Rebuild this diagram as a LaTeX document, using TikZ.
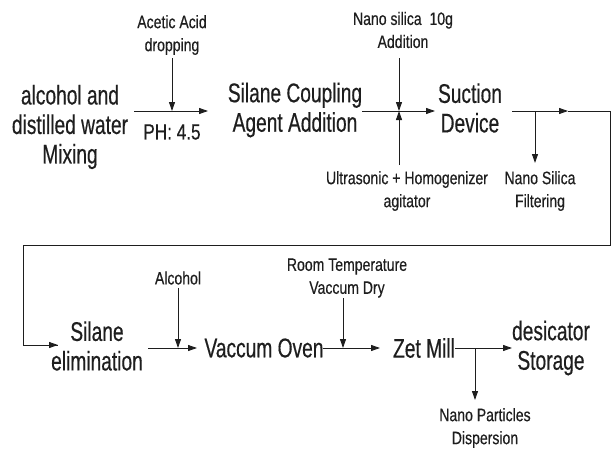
\documentclass[tikz,border=0pt]{standalone}
\usepackage{fontspec}
\setmainfont[FakeStretch=0.78]{Liberation Sans}
\newfontfamily\bigfam[FakeStretch=0.71,FakeBold=0.4]{Liberation Sans}
\newfontfamily\smallfam[FakeStretch=0.78,FakeBold=0.4]{Liberation Sans}
\usetikzlibrary{arrows.meta}
\definecolor{ink}{HTML}{1E1E1E}
\begin{document}
\begin{tikzpicture}[x=1pt,y=-1pt,
  big/.style={font=\bigfam\fontsize{27}{29.5}\selectfont, align=center, inner sep=0pt, text=ink},
  small/.style={font=\smallfam\fontsize{18}{23}\selectfont, align=center, inner sep=0pt, text=ink},
  mid/.style={font=\smallfam\fontsize{22}{26}\selectfont, align=center, inner sep=0pt, text=ink},
  ln/.style={line width=0.9pt, draw=ink},
  arr/.style={ln, -{Triangle[length=9pt,width=6pt]}}]
\useasboundingbox (0,0) rectangle (611,450);
\fill[white] (0,0) rectangle (611,450);
% row 1 nodes
\node[big] (mix) at (70,127) {alcohol and\\distilled water\\Mixing};
\node[small] (acetic) at (172,35) {Acetic Acid\\dropping};
\node[mid] (ph) at (172,132) {PH: 4.5};
\node[big] (silane) at (295,110) {Silane Coupling\\Agent Addition};
\node[small] (nano) at (403,30) {Nano silica~~10g\\Addition};
\node[small] (ultra) at (407,191) {Ultrasonic + Homogenizer\\agitator};
\node[big] (suction) at (470,108) {Suction\\Device};
\node[small] (filter) at (540,191) {Nano Silica\\Filtering};
% row 2 nodes
\node[big] (elim) at (97,346) {Silane\\elimination};
\node[small] (alc) at (178,278) {Alcohol};
\node[big] (oven) at (264,348) {Vaccum Oven};
\node[small] (room) at (347,278) {Room Temperature\\Vaccum Dry};
\node[big] (mill) at (424,348) {Zet Mill};
\node[big] (store) at (551,348) {desicator\\Storage};
\node[small] (disp) at (485,428) {Nano Particles\\Dispersion};
% coordinates
\coordinate (p1s) at (134,111); \coordinate (p1e) at (208,111);
\coordinate (p2s) at (362,111); \coordinate (p2e) at (435,111);
\coordinate (p3s) at (512,111); \coordinate (p3m) at (568,111);
\coordinate (c1) at (610,111); \coordinate (c2) at (610,245);
\coordinate (c3) at (23,245); \coordinate (c4) at (23,345);
\coordinate (p3e) at (58,345);
\coordinate (b1) at (535,111); \coordinate (b1e) at (535,163);
\coordinate (p4s) at (148,348); \coordinate (p4e) at (197,348);
\coordinate (p5s) at (323,348); \coordinate (p5e) at (380,348);
\coordinate (p6s) at (455,348); \coordinate (p6e) at (512,348);
\coordinate (b2) at (475,348); \coordinate (b2e) at (475,400);
\coordinate (u2) at (399,111); \coordinate (u2b) at (399,165);
% connectors row 1
\draw[arr] (p1s) -- (p1e);
\draw[arr, shorten <=3pt] (acetic.south) -- (acetic.south |- p1s);
\draw[arr] (p2s) -- (p2e);
\draw[arr] (399,58) -- (u2);
\draw[arr] (u2b) -- (u2);
\draw[arr] (p3s) -- (p3m);
\draw[ln] (p3m) -- (c1) -- (c2) -- (c3) -- (c4) -- (p3e);
\draw[arr] (c4) -- (p3e);
\draw[arr] (b1) -- (b1e);
% connectors row 2
\draw[arr] (p4s) -- (p4e);
\draw[arr, shorten <=3pt] (alc.south) -- (alc.south |- p4s);
\draw[arr] (p5s) -- (p5e);
\draw[arr] (343,298) -- (343,348);
\draw[arr] (p6s) -- (p6e);
\draw[arr] (b2) -- (b2e);
\end{tikzpicture}
\end{document}
